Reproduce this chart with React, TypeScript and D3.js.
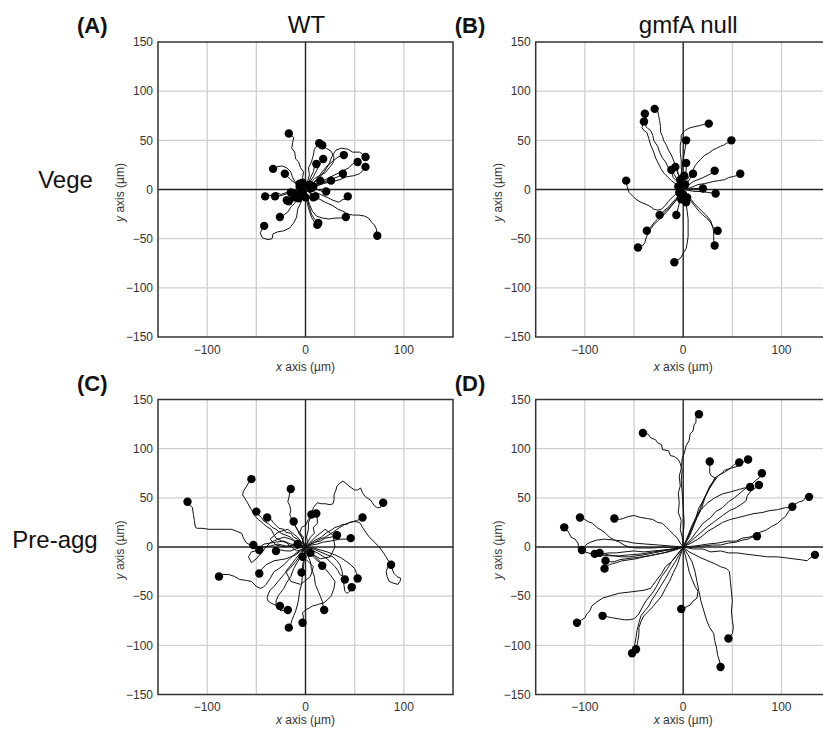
import React from 'react';
import * as d3 from 'd3';

type Pt = [number, number];

const panelLetters = ['(A)', '(B)', '(C)', '(D)'];
const columnTitles = ['WT', 'gmfA null'];
const rowTitles = ['Vege', 'Pre-agg'];
const yTickValues = [-150, -100, -50, 0, 50, 100, 150];
const xTickValues = [-100, 0, 100];
const gridValues = [-100, -50, 50, 100];
const axisDomain: Pt = [-150, 150];

const tracksA: Pt[][] = [
  [[0,0],[-1,6],[-3,12],[-2,18],[-5,22],[-7,28],[-10,31],[-11,38],[-14,42],[-13,48],[-12,53],[-17,57]],
  [[0,0],[2,8],[4,15],[3,22],[6,28],[8,35],[9,41],[14,47]],
  [[0,0],[5,6],[9,11],[14,14],[20,17],[24,22],[28,27],[29,33],[26,39],[21,42],[17,45]],
  [[0,0],[6,5],[12,11],[17,18],[22,24],[28,29],[33,33],[39,35]],
  [[0,0],[8,6],[14,12],[19,18],[24,26],[27,34],[31,40],[36,42],[43,41],[48,38],[55,38],[58,36],[61,33]],
  [[0,0],[8,4],[16,8],[24,12],[32,16],[38,19],[44,22],[48,26],[53,28]],
  [[0,0],[10,3],[18,6],[27,8],[35,10],[42,13],[49,14],[55,16],[58,19],[61,23]],
  [[0,0],[3,6],[5,12],[8,18],[9,23],[11,26]],
  [[0,0],[4,7],[8,13],[11,19],[15,26],[18,31]],
  [[0,0],[-6,3],[-10,7],[-13,12],[-15,18],[-19,22],[-24,24],[-29,23],[-33,21]],
  [[0,0],[-5,3],[-10,6],[-15,10],[-18,13],[-21,16]],
  [[0,0],[8,3],[15,7],[22,9],[28,11],[33,13],[38,16]],
  [[0,0],[7,3],[13,5],[19,7],[26,9]],
  [[0,0],[5,3],[10,6],[15,9]],
  [[0,0],[-7,-2],[-13,-4],[-19,-3],[-25,-5],[-30,-3],[-35,-6],[-41,-7]],
  [[0,0],[-6,-1],[-12,-3],[-18,-4],[-24,-6],[-31,-7]],
  [[0,0],[-5,-3],[-10,-6],[-15,-9],[-19,-11]],
  [[0,0],[-3,-2],[-6,-5],[-9,-7]],
  [[0,0],[3,-2],[6,-5],[10,-7]],
  [[0,0],[6,-1],[12,0],[17,-2],[21,-2]],
  [[0,0],[8,-2],[15,-5],[22,-8],[28,-11],[34,-13],[38,-10],[42,-10],[43,-7]],
  [[0,0],[-4,-5],[-8,-9],[-11,-14],[-15,-18],[-18,-23],[-22,-26],[-26,-28]],
  [[0,0],[-3,-7],[-5,-14],[-8,-20],[-9,-28],[-12,-34],[-16,-39],[-22,-42],[-28,-43],[-33,-45],[-34,-50],[-38,-51],[-44,-49],[-46,-44],[-44,-40],[-42,-37]],
  [[0,0],[1,-8],[2,-15],[4,-22],[6,-28],[9,-33],[12,-36]],
  [[0,0],[2,-10],[4,-18],[6,-25],[9,-30],[13,-34]],
  [[0,0],[2,-8],[4,-15],[7,-22],[11,-27],[17,-29],[24,-30],[30,-29],[36,-29],[41,-28]],
  [[0,0],[7,-5],[13,-9],[20,-13],[27,-16],[33,-20],[38,-22],[43,-25],[48,-26],[54,-26],[60,-27],[64,-29],[67,-33],[70,-36],[72,-40],[73,-47]],
  [[0,0],[-3,2],[-6,3]],
  [[0,0],[2,3],[4,5]],
  [[0,0],[-2,-3],[-4,-2]],
  [[0,0],[3,-2],[5,1]],
  [[0,0],[-1,4],[-3,7]],
  [[0,0],[-4,-1],[-8,-3],[-12,-4]],
  [[0,0],[1,-4],[0,-8]],
  [[0,0],[5,1],[8,3]],
  [[0,0],[-5,-4],[-7,-9]],
  [[0,0],[-6,0],[-11,-2],[-15,-3]],
  [[0,0],[-5,-3],[-9,-6],[-12,-8]],
  [[0,0],[-2,2],[-4,3]],
  [[0,0],[4,-3],[6,-6],[8,-8]],
  [[0,0],[-7,-5],[-12,-9],[-17,-12]],
  [[0,0],[-3,3],[-6,6]],
];

const tracksB: Pt[][] = [
  [[0,0],[-2,6],[-3,12],[-5,16],[-6,20],[-8,25],[-10,30],[-12,35],[-15,40],[-17,45],[-20,50],[-21,54],[-23,58],[-23,64],[-24,70],[-25,75],[-26,80],[-29,82]],
  [[0,0],[-4,4],[-6,8],[-10,12],[-12,18],[-15,22],[-18,28],[-21,32],[-24,38],[-26,44],[-30,50],[-31,55],[-33,60],[-36,62],[-38,64],[-37,67],[-36,70],[-38,73],[-39,77]],
  [[0,0],[-4,3],[-8,6],[-12,9],[-15,12],[-19,16],[-22,20],[-25,26],[-28,32],[-30,38],[-33,45],[-35,52],[-37,58],[-40,60],[-42,63],[-41,66],[-40,69]],
  [[0,0],[-1,8],[-1,15],[-2,22],[-2,30],[-3,38],[-3,45],[-2,50],[-2,55],[0,58],[2,60],[5,62],[8,63],[12,64],[17,65],[20,66],[22,66],[26,67]],
  [[0,0],[-2,8],[-2,15],[-1,22],[0,30],[1,36],[2,42],[3,50]],
  [[0,0],[2,5],[4,10],[7,15],[10,20],[12,24],[15,28],[18,31],[22,35],[26,37],[30,40],[34,42],[38,44],[41,45],[44,47],[47,48],[49,50]],
  [[0,0],[2,10],[3,20],[3,27]],
  [[0,0],[5,4],[10,8],[15,10],[20,12],[24,14],[28,16],[32,19]],
  [[0,0],[8,2],[15,5],[22,6],[30,8],[36,9],[42,10],[46,12],[50,13],[54,14],[58,16]],
  [[0,0],[5,8],[10,16]],
  [[0,0],[-5,8],[-9,15],[-12,20]],
  [[0,0],[-3,10],[-6,18],[-8,23]],
  [[0,0],[-4,-2],[-8,-5],[-11,-8],[-15,-12],[-18,-16],[-22,-20],[-26,-21],[-30,-20],[-34,-17],[-38,-15],[-43,-13],[-48,-10],[-51,-7],[-55,-3],[-56,0],[-57,3],[-58,9]],
  [[0,0],[10,1],[20,1]],
  [[0,0],[6,-1],[12,-2],[18,-2],[25,-3],[33,-4]],
  [[0,0],[-8,-10],[-15,-18],[-20,-22],[-24,-26]],
  [[0,0],[-3,-10],[-5,-18],[-7,-26]],
  [[0,0],[-4,-6],[-8,-12],[-13,-17],[-18,-22],[-22,-26],[-26,-30],[-29,-33],[-32,-37],[-35,-40],[-37,-42]],
  [[0,0],[-4,-6],[-8,-12],[-12,-17],[-16,-22],[-21,-27],[-26,-32],[-30,-36],[-33,-40],[-36,-45],[-38,-50],[-39,-54],[-41,-57],[-44,-58],[-46,-59]],
  [[0,0],[4,-5],[8,-10],[11,-14],[15,-18],[19,-22],[22,-25],[25,-28],[28,-32],[29,-35],[30,-38],[33,-40],[35,-42]],
  [[0,0],[4,-6],[8,-12],[12,-17],[16,-22],[20,-26],[25,-30],[28,-34],[30,-38],[31,-43],[31,-48],[31,-52],[32,-57]],
  [[0,0],[2,-8],[3,-15],[4,-22],[5,-30],[5,-38],[5,-48],[4,-55],[3,-60],[0,-65],[-3,-70],[-6,-72],[-9,-74]],
  [[0,0],[-2,5],[-3,10]],
  [[0,0],[1,3],[2,5]],
  [[0,0],[0,-3],[0,-5]],
  [[0,0],[-1,-5],[-2,-10]],
  [[0,0],[2,-7],[3,-13]],
  [[0,0],[-3,2],[-5,3]],
  [[0,0],[2,-4],[4,-8]],
  [[0,0],[0,7],[1,14]],
  [[0,0],[-2,-2],[-4,-3]],
];

const tracksC: Pt[][] = [
  [[0,0],[-5,-3],[-9,-4],[-14,0],[-19,4],[-24,6],[-30,9],[-33,14],[-35,18],[-40,21],[-43,24],[-48,28],[-52,32],[-55,38],[-59,45],[-62,50],[-64,53],[-63,57],[-61,60],[-58,65],[-55,69]],
  [[0,0],[-10,2],[-20,1],[-28,3],[-36,1],[-43,0],[-50,0],[-56,2],[-60,4],[-63,9],[-65,14],[-70,16],[-75,18],[-82,18],[-90,18],[-98,18],[-105,19],[-110,19],[-112,20],[-113,27],[-114,33],[-115,40],[-118,43],[-120,46]],
  [[0,0],[-3,7],[-5,14],[-9,18],[-11,24],[-14,28],[-16,33],[-15,37],[-16,42],[-18,46],[-17,50],[-16,55],[-15,59]],
  [[0,0],[-6,2],[-10,5],[-15,10],[-20,12],[-25,14],[-30,18],[-34,20],[-38,24],[-42,26],[-45,30],[-48,33],[-50,36]],
  [[0,0],[-5,5],[-8,8],[-12,10],[-15,14],[-20,15],[-22,18],[-27,19],[-30,22],[-33,25],[-35,28],[-39,30]],
  [[0,0],[-2,5],[-4,10],[-7,14],[-8,18],[-11,22],[-12,26]],
  [[0,0],[-3,5],[-2,10],[-6,14],[-4,20],[0,22],[3,28],[6,33]],
  [[0,0],[3,6],[5,10],[9,14],[8,20],[12,24],[12,28],[11,34]],
  [[0,0],[2,6],[1,10],[3,18],[3,25],[6,32],[8,40],[12,45],[16,44],[20,44],[25,43],[28,44],[29,48],[29,53],[31,58],[32,62],[35,65],[38,67],[41,65],[44,62],[47,60],[50,58],[53,58],[56,60],[58,55],[61,51],[64,49],[66,48],[68,45],[70,42],[73,40],[76,40],[79,45]],
  [[0,0],[5,4],[10,7],[16,10],[22,15],[26,17],[30,20],[34,21],[38,23],[42,23],[45,25],[49,26],[52,27],[55,28],[58,30]],
  [[0,0],[5,3],[10,5],[15,6],[20,9],[26,10],[32,12]],
  [[0,0],[6,2],[12,3],[18,5],[25,6],[30,7],[36,8],[41,8],[46,9]],
  [[0,0],[8,4],[15,8],[20,10],[28,15],[35,20],[40,23],[45,25],[50,26],[55,25],[58,20],[62,14],[65,10],[70,5],[75,0],[80,-7],[85,-15],[84,-20],[82,-25],[83,-30],[85,-35],[90,-37],[94,-38],[96,-35],[97,-32],[93,-30],[90,-27],[88,-22],[87,-18]],
  [[0,0],[-8,2],[-15,3],[-22,6],[-30,5],[-36,4],[-42,3],[-45,1],[-48,0],[-50,1],[-53,2]],
  [[0,0],[-8,4],[-15,8],[-22,10],[-28,8],[-35,5],[-40,0],[-45,-6],[-50,-12],[-55,-16],[-58,-10],[-55,-5],[-51,-4],[-47,-3]],
  [[0,0],[-6,-1],[-10,-2],[-15,-4],[-20,-4],[-25,-3],[-30,-4]],
  [[0,0],[-6,-4],[-12,-8],[-17,-13],[-22,-18],[-27,-22],[-32,-25],[-36,-32],[-40,-38],[-43,-41],[-46,-42],[-50,-40],[-55,-35],[-60,-34],[-67,-33],[-72,-30],[-78,-28],[-84,-28],[-88,-30]],
  [[0,0],[-5,-4],[-10,-8],[-15,-10],[-20,-12],[-26,-13],[-32,-14],[-36,-16],[-40,-18],[-44,-22],[-47,-27]],
  [[0,0],[-5,-8],[-10,-15],[-16,-22],[-22,-28],[-27,-34],[-32,-40],[-36,-44],[-38,-48],[-39,-52],[-38,-55],[-35,-57],[-33,-58],[-29,-60],[-26,-60]],
  [[0,0],[-4,-8],[-8,-15],[-12,-22],[-15,-30],[-19,-36],[-22,-42],[-25,-46],[-28,-50],[-30,-55],[-30,-60],[-27,-63],[-25,-65],[-21,-64],[-18,-64]],
  [[0,0],[-1,-10],[-2,-20],[-3,-28],[-4,-38],[-6,-45],[-7,-53],[-8,-58],[-10,-65],[-12,-70],[-14,-75],[-15,-79],[-17,-82]],
  [[0,0],[5,-5],[10,-10],[15,-15],[20,-22],[25,-28],[30,-35],[29,-42],[26,-50],[22,-54],[18,-57],[14,-58],[11,-59],[7,-60],[4,-62],[0,-64],[-3,-67],[-2,-72],[-3,-77]],
  [[0,0],[2,-8],[5,-15],[6,-22],[9,-30],[10,-38],[13,-45],[15,-50],[17,-55],[18,-60],[19,-64]],
  [[0,0],[3,-4],[6,-8],[9,-11],[12,-14],[15,-16],[17,-19]],
  [[0,0],[-1,-5],[-2,-10],[-2,-14],[-3,-18],[-3,-22],[-4,-26]],
  [[0,0],[6,-3],[12,-6],[17,-9],[22,-12],[26,-16],[30,-20],[33,-24],[35,-28],[38,-30],[40,-33]],
  [[0,0],[8,-2],[15,-5],[22,-8],[28,-10],[32,-14],[35,-18],[37,-24],[38,-30],[39,-38],[40,-45],[42,-47],[44,-46],[46,-44],[47,-41]],
  [[0,0],[8,-1],[15,-3],[22,-5],[30,-8],[36,-11],[42,-15],[46,-18],[50,-22],[52,-27],[53,-32]],
  [[0,0],[-8,10],[-18,18],[-28,15],[-36,8],[-30,2],[-20,0],[-12,2],[-8,3]],
  [[0,0],[10,10],[20,18],[28,12],[30,0],[25,-10],[15,-12],[8,-8],[5,-6]],
  [[0,0],[-10,-12],[-20,-25],[-15,-35],[-5,-38],[5,-30],[8,-20],[2,-14],[-3,-10]],
];

const tracksD: Pt[][] = [
  [[0,0],[-1,10],[-3,18],[-2,27],[-5,35],[-4,45],[-5,55],[-3,62],[-4,72],[-2,80],[-1,90],[1,95],[3,103],[6,108],[7,115],[10,118],[11,124],[13,127],[13,132],[16,135]],
  [[0,0],[0,12],[1,25],[0,40],[-1,55],[-2,68],[-1,78],[-3,85],[-5,89],[-9,92],[-13,93],[-15,98],[-21,99],[-22,104],[-26,106],[-28,109],[-33,111],[-36,115],[-41,116]],
  [[0,0],[5,10],[9,18],[12,28],[17,38],[20,47],[24,55],[27,62],[30,66],[33,70],[29,72],[27,75],[27,81],[27,87]],
  [[0,0],[5,12],[9,22],[13,30],[16,40],[21,48],[24,55],[28,62],[32,70],[38,74],[42,78],[48,80],[52,84],[57,86]],
  [[0,0],[6,10],[10,20],[14,30],[19,40],[22,50],[27,60],[31,66],[36,73],[42,76],[48,80],[55,82],[60,86],[66,89]],
  [[0,0],[8,8],[14,16],[20,24],[28,30],[33,36],[40,40],[46,46],[52,50],[58,55],[64,60],[70,64],[74,68],[77,70],[80,75]],
  [[0,0],[8,6],[16,13],[24,20],[32,26],[40,32],[47,37],[54,40],[60,44],[64,47],[65,52],[68,56],[72,59],[77,63]],
  [[0,0],[5,10],[9,20],[14,30],[18,38],[25,45],[32,50],[40,54],[48,56],[55,58],[62,60],[68,61]],
  [[0,0],[10,5],[18,10],[25,16],[32,20],[40,25],[48,28],[56,30],[64,32],[72,34],[80,35],[88,37],[96,38],[104,40],[110,40],[113,43],[118,46],[122,47],[124,50],[128,51]],
  [[0,0],[12,1],[25,3],[35,4],[45,6],[54,6],[60,9],[67,10],[73,12],[78,15],[84,17],[90,21],[96,24],[100,28],[104,31],[107,36],[111,41]],
  [[0,0],[10,0],[20,1],[30,2],[38,2],[46,4],[54,5],[60,7],[66,8],[70,10],[75,11]],
  [[0,0],[10,-2],[20,-2],[28,-5],[38,-4],[46,-6],[55,-6],[62,-7],[70,-8],[78,-9],[86,-10],[96,-10],[104,-11],[112,-12],[120,-13],[126,-14],[128,-12],[131,-10],[134,-8]],
  [[0,0],[6,-5],[12,-8],[18,-11],[25,-14],[32,-17],[38,-20],[44,-22],[47,-25],[48,-35],[49,-45],[50,-55],[49,-65],[50,-75],[51,-82],[50,-88],[46,-93]],
  [[0,0],[5,-8],[9,-15],[12,-25],[14,-35],[16,-45],[18,-55],[21,-65],[24,-75],[27,-82],[31,-88],[32,-95],[34,-103],[35,-110],[37,-116],[38,-122]],
  [[0,0],[2,-8],[4,-16],[6,-25],[9,-33],[12,-40],[15,-45],[14,-52],[10,-55],[7,-59],[3,-61],[-2,-63]],
  [[0,0],[-10,-1],[-20,0],[-30,-1],[-40,-1],[-48,-1],[-55,0],[-60,2],[-65,5],[-70,7],[-75,10],[-79,14],[-83,17],[-88,20],[-92,24],[-97,26],[-100,28],[-105,30]],
  [[0,0],[-3,4],[-6,9],[-10,13],[-14,17],[-17,20],[-21,24],[-26,25],[-31,28],[-37,29],[-43,30],[-50,32],[-56,31],[-61,29],[-65,28],[-70,29]],
  [[0,0],[-15,-3],[-30,-5],[-42,-7],[-55,-8],[-65,-9],[-75,-9],[-85,-8],[-93,-7],[-100,-5],[-104,-3],[-106,-1],[-107,4],[-110,8],[-114,10],[-116,14],[-118,17],[-121,20]],
  [[0,0],[-12,1],[-25,2],[-38,3],[-50,4],[-60,6],[-70,7],[-80,8],[-88,7],[-94,5],[-98,3],[-103,-3]],
  [[0,0],[-10,-2],[-20,-3],[-30,-4],[-40,-5],[-50,-4],[-60,-5],[-68,-6],[-75,-6],[-84,-7],[-90,-7]],
  [[0,0],[-10,-2],[-20,-4],[-30,-6],[-40,-8],[-48,-9],[-55,-10],[-63,-10],[-70,-9],[-76,-8],[-80,-7],[-85,-6]],
  [[0,0],[-8,-3],[-15,-5],[-25,-7],[-35,-9],[-42,-10],[-50,-11],[-58,-12],[-65,-13],[-70,-15],[-74,-15],[-79,-14]],
  [[0,0],[-10,-3],[-20,-6],[-30,-8],[-40,-10],[-48,-12],[-55,-13],[-62,-14],[-68,-16],[-72,-17],[-75,-18],[-78,-20],[-80,-22]],
  [[0,0],[-4,-5],[-8,-10],[-12,-15],[-18,-20],[-22,-27],[-28,-35],[-31,-39],[-33,-42],[-40,-44],[-48,-45],[-56,-46],[-65,-47],[-72,-49],[-82,-52],[-88,-56],[-93,-60],[-95,-65],[-98,-68],[-100,-72],[-103,-74],[-108,-77]],
  [[0,0],[-6,-8],[-12,-15],[-16,-22],[-22,-30],[-26,-38],[-30,-45],[-34,-50],[-38,-55],[-42,-62],[-45,-68],[-50,-73],[-55,-74],[-60,-74],[-66,-73],[-72,-72],[-77,-71],[-82,-70]],
  [[0,0],[-4,-8],[-8,-15],[-13,-23],[-18,-32],[-23,-40],[-28,-48],[-32,-54],[-35,-60],[-39,-65],[-43,-70],[-45,-77],[-47,-85],[-48,-92],[-49,-98],[-50,-103],[-52,-108]],
  [[0,0],[-3,-9],[-6,-18],[-10,-26],[-14,-35],[-18,-42],[-22,-50],[-27,-56],[-32,-62],[-36,-66],[-40,-70],[-43,-76],[-45,-82],[-45,-88],[-46,-95],[-47,-100],[-48,-104]],
];

const FONT = '"Liberation Sans", Arial, Helvetica, sans-serif';
const PLOT = 295;

interface PanelProps {
  left: number;
  top: number;
  tracks: Pt[][];
  letter: string;
  tickGap: number;
  titleGap: number;
}

function Panel({ left, top, tracks, letter, tickGap, titleGap }: PanelProps) {
  const x = d3.scaleLinear().domain(axisDomain).range([left, left + PLOT]);
  const y = d3.scaleLinear().domain(axisDomain).range([top + PLOT, top]);
  const fmt = d3.format('');
  const line = d3.line<Pt>().x(d => x(d[0])).y(d => y(d[1]));
  const clipId = 'clip-' + letter.replace(/[()]/g, '');
  return (
    <g>
      <defs>
        <clipPath id={clipId}>
          <rect x={left} y={top} width={PLOT} height={PLOT} />
        </clipPath>
      </defs>
      <rect x={left} y={top} width={PLOT} height={PLOT} fill="#fff" />
      {gridValues.map(v => (
        <g key={'g' + v}>
          <line x1={x(v)} x2={x(v)} y1={top} y2={top + PLOT} stroke="#cfcfcf" strokeWidth={1.3} />
          <line x1={left} x2={left + PLOT} y1={y(v)} y2={y(v)} stroke="#cfcfcf" strokeWidth={1.3} />
        </g>
      ))}
      <line x1={x(0)} x2={x(0)} y1={top} y2={top + PLOT} stroke="#222" strokeWidth={1.4} />
      <line x1={left} x2={left + PLOT} y1={y(0)} y2={y(0)} stroke="#222" strokeWidth={1.4} />
      <g clipPath={`url(#${clipId})`}>
        {tracks.map((t, i) => (
          <path key={'t' + i} d={line(t) || ''} fill="none" stroke="#111" strokeWidth={1} strokeLinejoin="round" />
        ))}
        {tracks.map((t, i) => {
          const e = t[t.length - 1];
          return <circle key={'m' + i} cx={x(e[0])} cy={y(e[1])} r={4.2} fill="#000" />;
        })}
      </g>
      <rect x={left} y={top} width={PLOT} height={PLOT} fill="none" stroke="#333" strokeWidth={1.5} />
      {yTickValues.map(v => (
        <text key={'yt' + v} x={left - 5} y={y(v)} dy="0.35em" textAnchor="end" fontSize={12} fill="#333" fontFamily={FONT}>
          {fmt(v)}
        </text>
      ))}
      {xTickValues.map(v => (
        <text key={'xt' + v} x={x(v)} y={top + PLOT + tickGap} textAnchor="middle" fontSize={12} fill="#333" fontFamily={FONT}>
          {fmt(v)}
        </text>
      ))}
      <text x={left + PLOT / 2} y={top + PLOT + titleGap} textAnchor="middle" fontSize={12} fill="#333" fontFamily={FONT}>
        <tspan fontStyle="italic">x</tspan> axis (µm)
      </text>
      <text transform={`translate(${left - 34},${top + PLOT / 2 + 3}) rotate(-90)`} textAnchor="middle" fontSize={12} fill="#333" fontFamily={FONT}>
        <tspan fontStyle="italic">y</tspan> axis (µm)
      </text>
    </g>
  );
}

export default function App() {
  const lefts = [158, 535.7];
  const tops = [42, 399.5];
  const trackSets = [tracksA, tracksB, tracksC, tracksD];
  const tickGaps = [17, 16];
  const titleGaps = [34, 29.5];
  return (
    <svg width={823} height={732} style={{ position: 'absolute', left: 0, top: 0, display: 'block', background: '#fff' }}>
      <rect x={0} y={0} width={823} height={732} fill="#fff" />
      {trackSets.map((t, i) => (
        <Panel
          key={i}
          left={lefts[i % 2]}
          top={tops[Math.floor(i / 2)]}
          tracks={t}
          letter={panelLetters[i]}
          tickGap={tickGaps[Math.floor(i / 2)]}
          titleGap={titleGaps[Math.floor(i / 2)]}
        />
      ))}
      {panelLetters.map((l, i) => (
        <text key={l} x={lefts[i % 2] - 81} y={tops[Math.floor(i / 2)] - 9} fontSize={22} fontWeight="bold" fill="#111" fontFamily={FONT}>
          {l}
        </text>
      ))}
      {columnTitles.map((c, i) => (
        <text key={c} x={lefts[i] + PLOT / 2 + (i === 0 ? 1 : 5)} y={33} textAnchor="middle" fontSize={24} fill="#111" fontFamily={FONT}>
          {c}
        </text>
      ))}
      {rowTitles.map((r, i) => (
        <text key={r} x={i === 0 ? 65.5 : 55} y={i === 0 ? 188 : 548} textAnchor="middle" fontSize={24} fill="#111" fontFamily={FONT}>
          {r}
        </text>
      ))}
    </svg>
  );
}
